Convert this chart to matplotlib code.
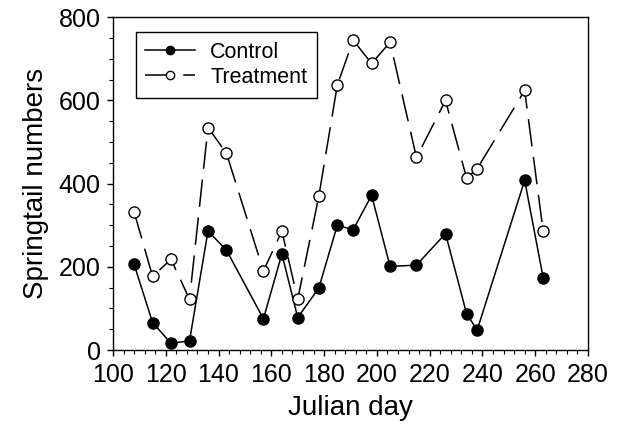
import matplotlib
matplotlib.use("Agg")
import matplotlib.pyplot as plt
from matplotlib.ticker import MultipleLocator

plt.rcParams['font.family'] = ['Liberation Sans', 'DejaVu Sans']

days = [108, 115, 122, 129, 136, 143, 157, 164, 170, 178, 185, 191, 198, 205, 215, 226, 234, 238, 256, 263]
control = [206, 66, 16, 22, 286, 240, 75, 231, 78, 149, 300, 289, 372, 201, 204, 280, 87, 48, 408, 174]
treatment = [332, 177, 218, 122, 535, 473, 190, 286, 122, 370, 637, 745, 689, 740, 463, 600, 413, 436, 624, 286]

fig = plt.figure(figsize=(6.17, 4.30), dpi=100)
ax = fig.add_axes([113/617, 1 - 350/430, (588-113)/617, (350-17.3)/430])

ax.plot(days, control, color='black', lw=1.1, marker='o', markersize=8,
        markerfacecolor='black', markeredgecolor='black', label='Control')
ax.plot(days, treatment, color='black', lw=1.1, linestyle=(0, (18, 7)), marker='o', markersize=8,
        markerfacecolor='white', markeredgecolor='black', markeredgewidth=1.0, label='Treatment')

ax.set_xlim(100, 280)
ax.set_ylim(0, 800)
ax.xaxis.set_major_locator(MultipleLocator(20))
ax.xaxis.set_minor_locator(MultipleLocator(4))
ax.yaxis.set_major_locator(MultipleLocator(200))
ax.yaxis.set_minor_locator(MultipleLocator(50))
ax.tick_params(which='major', direction='out', length=4, width=1, labelsize=18, pad=5)
ax.tick_params(which='minor', direction='out', length=3, width=0.8)
for s in ax.spines.values():
    s.set_linewidth(1.0)

ax.set_xlabel('Julian day', fontsize=20, labelpad=6)
ax.set_ylabel('Springtail numbers', fontsize=20, labelpad=7)

leg = ax.legend(loc='upper left', bbox_to_anchor=(0.048, 0.956), fontsize=15.5, frameon=True,
                fancybox=False, edgecolor='black', framealpha=1, markerscale=0.75,
                handlelength=2.3, borderpad=0.45, labelspacing=0.2, handletextpad=0.7,
                borderaxespad=0)
leg.get_frame().set_linewidth(1.0)

fig.savefig('out.png', dpi=100)
